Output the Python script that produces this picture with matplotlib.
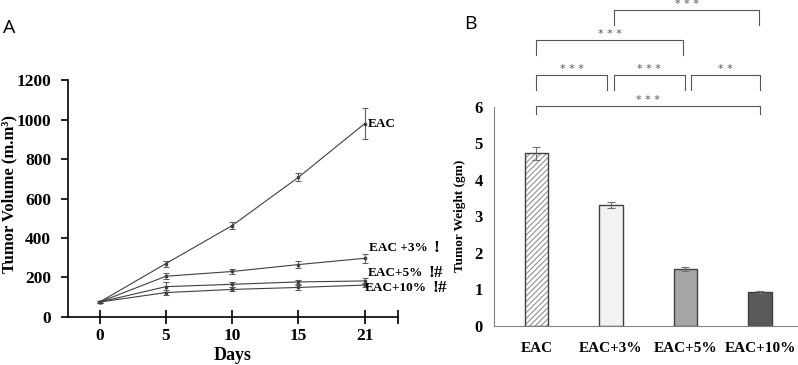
import numpy as np
import matplotlib.pyplot as plt

# ---- data ----
days = ["0", "5", "10", "15", "21"]
eac = [75, 270, 463, 708, 980]
eac_err = [5, 15, 18, 20, 80]
eac3 = [75, 206, 230, 265, 297]
eac3_err = [5, 15, 15, 18, 22]
eac5 = [75, 153, 165, 177, 182]
eac5_err = [5, 25, 12, 10, 15]
eac10 = [75, 123, 139, 149, 161]
eac10_err = [5, 12, 10, 12, 12]

groups = ["EAC", "EAC+3%", "EAC+5%", "EAC+10%"]
weight = [4.72, 3.30, 1.55, 0.93]
weight_err = [0.18, 0.08, 0.05, 0.03]

serif = "Liberation Serif"

fig = plt.figure(figsize=(7.98, 3.65), dpi=100)

# ---------------- panel A ----------------
ax = fig.add_axes([0.085, 0.132, 0.4135, 0.648])
xi = np.arange(len(days))
for y, e in [(eac, eac_err), (eac3, eac3_err), (eac5, eac5_err), (eac10, eac10_err)]:
    ax.errorbar(xi, y, yerr=e, color="#404040", lw=0.8, marker="s", ms=2,
                ecolor="#606060", elinewidth=0.8, capsize=2.5, capthick=0.8)

ax.set_xlim(-0.48, 4.5)
ax.set_ylim(0, 1200)
ax.set_yticks(range(0, 1201, 200))
ax.set_xticks(xi)
ax.set_xticklabels(days)
ax.set_xticks([4.5], minor=True)
for s in ["top", "right"]:
    ax.spines[s].set_visible(False)
for s in ["left", "bottom"]:
    ax.spines[s].set_linewidth(1.2)
ax.tick_params(axis="x", which="both", direction="inout", length=10, width=1.2, pad=3)
ax.tick_params(axis="y", direction="out", length=5, width=1.2, pad=7)
for lab in ax.get_xticklabels() + ax.get_yticklabels():
    lab.set_fontfamily(serif)
    lab.set_fontweight("bold")
    lab.set_fontsize(12.5)
ax.set_xlabel("Days", fontfamily=serif, fontweight="bold", fontsize=13, labelpad=2)
ax.set_ylabel("Tumor Volume (m.m³)", fontfamily=serif, fontweight="bold", fontsize=12)
ax.yaxis.set_label_coords(-0.152, 0.52)

txt = dict(fontfamily=serif, fontweight="bold", fontsize=9.5, va="center", ha="left")
mark = dict(fontfamily=serif, fontweight="bold", fontsize=12.5, va="center", ha="left",
            textcoords="offset points", xytext=(4, 0))
ax.text(4.05, 976, "EAC", **txt)
t3 = ax.text(4.07, 347, "EAC +3%", **txt)
ax.annotate("!", xy=(1, 0.5), xycoords=t3, **mark)
t5 = ax.text(4.05, 222, "EAC+5%", **txt)
ax.annotate("!#", xy=(1, 0.5), xycoords=t5, **mark)
t10 = ax.text(4.0, 147, "EAC+10%", **txt)
ax.annotate("!#", xy=(1, 0.5), xycoords=t10, **mark)
fig.text(0.004, 0.91, "A", fontfamily="Open Sans", fontsize=14)

# ---------------- panel B ----------------
bx = fig.add_axes([0.619, 0.1077, 0.381, 0.60])
gi = np.arange(len(groups))
faces = ["white", "#f2f2f2", "#a6a6a6", "#595959"]
plt.rcParams["hatch.linewidth"] = 0.8
bx.bar(gi[:1], weight[:1], width=0.31, color="white", edgecolor="#909090",
       hatch="//////", lw=0)
bx.bar(gi, weight, width=0.31, color=[f if i else "none" for i, f in enumerate(faces)],
       edgecolor="#404040", lw=1.0)
bx.errorbar(gi, weight, yerr=weight_err, fmt="none", ecolor="#707070",
            elinewidth=0.8, capsize=3, capthick=0.8)
bx.set_xlim(-0.57, 3.51)
bx.set_ylim(0, 6)
bx.set_yticks(range(7))
bx.set_xticks(gi)
bx.set_xticklabels(groups)
for s in ["top", "right"]:
    bx.spines[s].set_visible(False)
for s in ["left", "bottom"]:
    bx.spines[s].set_color("#808080")
bx.tick_params(length=0)
bx.tick_params(axis="x", pad=12)
bx.tick_params(axis="y", pad=8)
for lab in bx.get_yticklabels():
    lab.set_fontfamily(serif)
    lab.set_fontweight("bold")
    lab.set_fontsize(12)
for lab in bx.get_xticklabels():
    lab.set_fontfamily(serif)
    lab.set_fontweight("bold")
    lab.set_fontsize(11)
bx.set_ylabel("Tumor Weight (gm)", fontfamily=serif, fontweight="bold", fontsize=9.5, labelpad=6)

# significance brackets: (start x, end x, top y, leg bottom y, label)
brackets = [
    (1.04, 2.99, 8.65, 8.24, "* * *"),
    (0.0, 1.97, 7.83, 7.42, "* * *"),
    (0.0, 0.95, 6.87, 6.46, "* * *"),
    (1.04, 1.99, 6.87, 6.46, "* * *"),
    (2.07, 3.0, 6.87, 6.46, "* *"),
    (0.0, 3.0, 6.02, 5.80, "* * *"),
]
for x0, x1, yt, yb, lab in brackets:
    bx.plot([x0, x0, x1, x1], [yb, yt, yt, yb], color="#555555", lw=0.8, clip_on=False)
    bx.text((x0 + x1) / 2, yt + 0.02, lab, ha="center", va="bottom", color="#555555",
            fontsize=8, clip_on=False)
fig.text(0.581, 0.92, "B", fontfamily="Open Sans", fontsize=14)

fig.savefig("out.png", dpi=100)
